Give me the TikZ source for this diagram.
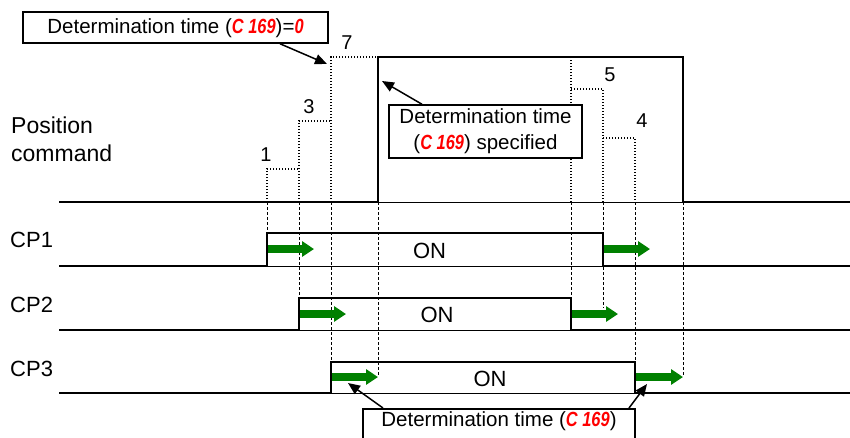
\documentclass[tikz,border=0pt]{standalone}
\usepackage{fontspec}
\usepackage{graphicx}
\setmainfont{Liberation Sans}
\usetikzlibrary{arrows.meta}
\definecolor{segred}{RGB}{255,0,0}
\definecolor{arrgreen}{RGB}{0,128,0}
\newcommand{\seg}[1]{{\color{segred}\bfseries\itshape\scalebox{0.8}[1]{#1}}}
\tikzset{
  sig/.style={line width=2.6pt, line join=miter, line cap=rect},
  sigthin/.style={line width=1pt},
  stairs/.style={line width=1.3pt, dash pattern=on 1.3pt off 1.7pt},
  guide/.style={line width=0.7pt, dash pattern=on 3pt off 2pt},
  gar/.style={arrgreen, line width=7.5pt, -{Triangle[length=12pt,width=15pt]}},
  bar/.style={line width=1.5pt, -{Triangle[length=12pt,width=10pt]}},
  box/.style={draw, line width=1.5pt, inner sep=0pt, fill=white},
  lbl/.style={font=\fontsize{22}{26}\selectfont, inner sep=0pt},
  plbl/.style={font=\fontsize{23}{26}\selectfont, inner sep=0pt},
  num/.style={font=\fontsize{20}{24}\selectfont, inner sep=0pt},
  btxt/.style={font=\fontsize{20.5}{26}\selectfont, inner sep=0pt, align=center}
}
\begin{document}
\begin{tikzpicture}[x=1pt,y=-1pt]
\useasboundingbox (0,0) rectangle (850,437);
% staircases (dotted)
\draw[stairs] (267,202) -- (267,169) -- (299,169);
\draw[stairs] (299,202) -- (299,121) -- (331,121);
\draw[stairs] (331,202) -- (331,57) -- (378,57);
\draw[stairs] (571,202) -- (571,57);
\draw[stairs] (571,89) -- (603,89) -- (603,202);
\draw[stairs] (603,138) -- (635,138) -- (635,202);
% guide lines below baseline
\draw[guide] (267,202) -- (267,233);
\draw[guide] (299,202) -- (299,298);
\draw[guide] (331,202) -- (331,362);
\draw[guide] (378,202) -- (378,376);
\draw[guide] (571,202) -- (571,298);
\draw[guide] (603,202) -- (603,308);
\draw[guide] (635,202) -- (635,362);
\draw[guide] (683,202) -- (683,376);
% position command
\draw[sigthin] (378,202) -- (683,202);
\draw[sig] (60,202) -- (378,202) -- (378,57) -- (683,57) -- (683,202) -- (850,202);
% CP1
\draw[sigthin] (267,266) -- (603,266);
\draw[sig] (60,266) -- (267,266) -- (267,233) -- (603,233) -- (603,266) -- (850,266);
% CP2
\draw[sigthin] (299,330) -- (571,330);
\draw[sig] (60,330) -- (299,330) -- (299,298) -- (571,298) -- (571,330) -- (850,330);
% CP3
\draw[sigthin] (331,393) -- (635,393);
\draw[sig] (60,393) -- (331,393) -- (331,362) -- (635,362) -- (635,393) -- (850,393);
% green arrows
\coordinate (g1a) at (268,249); \coordinate (g1b) at (314,249);
\coordinate (g2a) at (604,249); \coordinate (g2b) at (650,249);
\coordinate (g3a) at (300,314); \coordinate (g3b) at (346,314);
\coordinate (g4a) at (572,314); \coordinate (g4b) at (618,314);
\coordinate (g5a) at (332,377); \coordinate (g5b) at (378,377);
\coordinate (g6a) at (636,377); \coordinate (g6b) at (683,377);
\draw[gar] (g1a) -- (g1b);
\draw[gar] (g2a) -- (g2b);
\draw[gar] (g3a) -- (g3b);
\draw[gar] (g4a) -- (g4b);
\draw[gar] (g5a) -- (g5b);
\draw[gar] (g6a) -- (g6b);
% labels
\node[plbl, anchor=base west] (pos1) at (11,133) {Position};
\node[plbl, anchor=base west] (pos2) at (11,161) {command};
\node[lbl, anchor=west] (cp1) at (10,240) {CP1};
\node[lbl, anchor=west] (cp2) at (10,305) {CP2};
\node[lbl, anchor=west] (cp3) at (10,369) {CP3};
\node[lbl] (on1) at (429.5,250.5) {ON};
\node[lbl] (on2) at (437,315) {ON};
\node[lbl] (on3) at (490,379) {ON};
\node[num] (n1) at (266,155) {1};
\node[num] (n3) at (309,107) {3};
\node[num] (n7) at (347,43) {7};
\node[num] (n5) at (610,75) {5};
\node[num] (n4) at (642,121) {4};
% boxes
\node[box, minimum width=305pt, minimum height=31pt] (b1) at (175.5,27.5) {};
\node[btxt] (t1) at (175.5,28) {Determination time (\seg{C 169})=\seg{0}};
\node[box, minimum width=193pt, minimum height=53pt] (b2) at (485.5,131.5) {};
\node[btxt] (t2) at (485.5,131.5) {Determination time\\(\seg{C 169}) specified};
\node[box, minimum width=272pt, minimum height=50pt, anchor=north] (b3) at (499,408) {};
\node[btxt] (t3) at (499,421) {Determination time (\seg{C 169})};
% black arrows
\coordinate (a7) at (327,64);
\coordinate (a2) at (382,81);
\coordinate (a3l) at (348,383);
\coordinate (a3r) at (647,384);
\draw[bar] ([xshift=104.5pt]b1.south) -- (a7);
\draw[bar] ([xshift=-63.5pt]b2.north) -- (a2);
\draw[bar] ([xshift=-116pt]b3.north) -- (a3l);
\draw[bar] ([xshift=130pt]b3.north) -- (a3r);
\end{tikzpicture}
\end{document}
